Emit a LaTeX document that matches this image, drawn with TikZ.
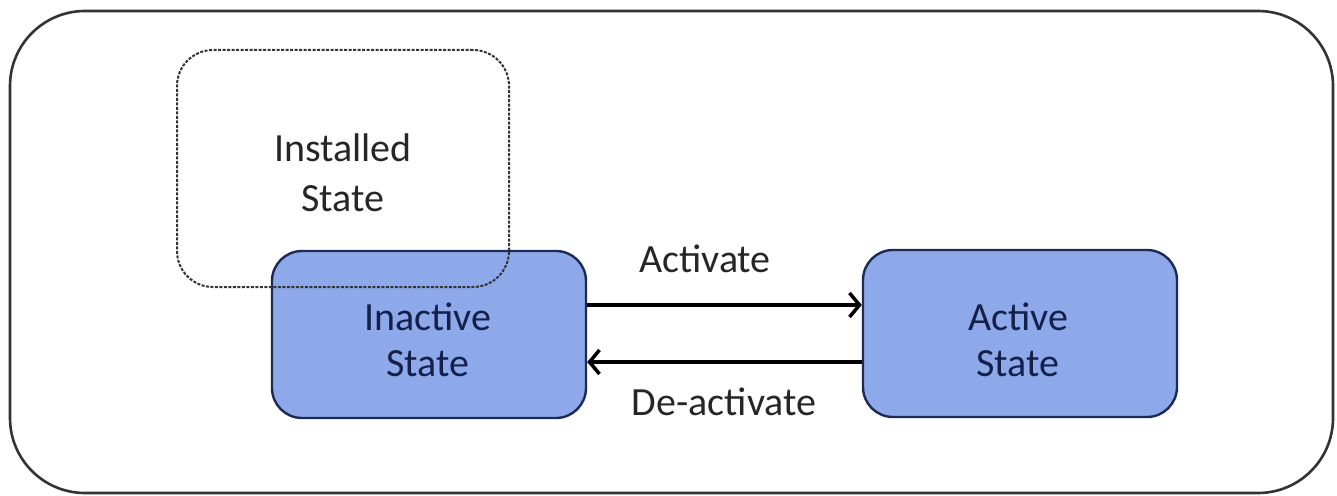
\documentclass[tikz,border=0pt]{standalone}
\usepackage{fontspec}
\setmainfont{Carlito}
\usetikzlibrary{arrows.meta}
\definecolor{boxfill}{HTML}{8EA9EA}
\definecolor{boxline}{HTML}{1C2A55}
\definecolor{boxtext}{HTML}{14204A}
\tikzset{
  statebox/.style={draw=boxline, line width=2.4pt, fill=boxfill, rounded corners=30pt,
    minimum width=314pt, minimum height=167pt, inner sep=0pt, text=boxtext,
    align=center, font=\fontsize{40}{46}\selectfont},
  dashbox/.style={draw=black!80, line width=2pt, dash pattern=on 3pt off 1.5pt,
    rounded corners=36pt, minimum width=332pt, minimum height=237pt, inner sep=0pt},
  lbl/.style={font=\fontsize{40}{50}\selectfont, align=center, inner sep=0pt, text=black!85},
  conn/.style={line width=4pt, -{Straight Barb[length=10pt,width=24pt,line width=3.5pt]}},
}
\begin{document}
\begin{tikzpicture}[x=1pt,y=-1pt]
\useasboundingbox (0,0) rectangle (1337,495);
\node[draw=black!80, line width=2.6pt, rounded corners=75pt, minimum width=1323pt,
  minimum height=482pt, inner sep=0pt] (outer) at (671.5,252) {};
\node[statebox] (inactive) at (429,334.5) {};
\node[lbl, text=boxtext, font=\fontsize{40}{46}\selectfont] (inactivetxt) at (428,340) {Inactive\\State};
\node[dashbox] (installed) at (343,168.5) {};
\node[lbl] (installedtxt) at (343,173) {Installed\\State};
\node[statebox] (active) at (1020,333.5) {};
\node[lbl, text=boxtext, font=\fontsize{40}{46}\selectfont] (activetxt) at (1018,340) {Active\\State};
\draw[conn] (inactive.east |- 0,305) -- (active.west |- 0,305);
\draw[conn] (active.west |- 0,362) -- (inactive.east |- 0,362);
\node[lbl] (act) at (705,259) {Activate};
\node[lbl] (deact) at (724,402) {De-activate};
\end{tikzpicture}
\end{document}
